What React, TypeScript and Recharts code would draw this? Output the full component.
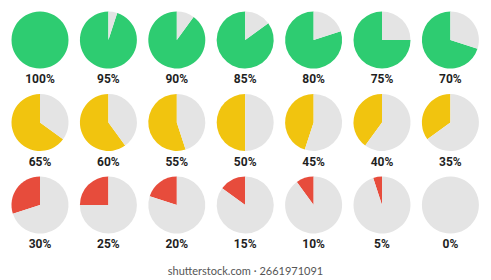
import { PieChart, Pie, Cell } from "recharts";

const percents = [100, 95, 90, 85, 80, 75, 70, 65, 60, 55, 50, 45, 40, 35, 30, 25, 20, 15, 10, 5, 0];
const rowColors = ["#2ecc71", "#f1c40f", "#e74c3c"];
const restColor = "#e4e4e4";
const footerText = "shutterstock.com · 2661971091";

const W = 491;
const H = 280;
const PER_ROW = 7;
const X0 = 40;
const DX = 68.4;
const Y0 = 40;
const DY = 82.5;
const R = 28.5;

export default function App() {
  return (
    <div style={{ position: "absolute", left: 0, top: 0, width: W, height: H, background: "#fff" }}>
      <PieChart width={W} height={H} margin={{ top: 0, right: 0, bottom: 0, left: 0 }}>
        {percents.map((p, i) => {
          const row = Math.floor(i / PER_ROW);
          const col = i % PER_ROW;
          const data = [{ name: "part", value: p }, { name: "rest", value: 100 - p }];
          return (
            <Pie key={i} data={data} dataKey="value" cx={X0 + col * DX} cy={Y0 + row * DY}
              innerRadius={0} outerRadius={R} startAngle={90} endAngle={450}
              stroke="none" isAnimationActive={false}>
              <Cell fill={rowColors[row]} />
              <Cell fill={restColor} />
            </Pie>
          );
        })}
      </PieChart>
      {percents.map((p, i) => {
        const row = Math.floor(i / PER_ROW);
        const col = i % PER_ROW;
        return (
          <div key={i} style={{
            position: "absolute", left: X0 + col * DX - 30, width: 60, top: Y0 + row * DY + 39 - 8,
            height: 16, lineHeight: "16px", textAlign: "center",
            fontFamily: "Roboto, sans-serif", fontWeight: 700, fontSize: 12, color: "#1f1f1f",
          }}>{p}%</div>
        );
      })}
      <div style={{
        position: "absolute", left: 0, width: W, top: 263, height: 16, lineHeight: "16px",
        textAlign: "center", fontFamily: "Lato, sans-serif", fontSize: 11, color: "#555",
      }}>{footerText}</div>
    </div>
  );
}
